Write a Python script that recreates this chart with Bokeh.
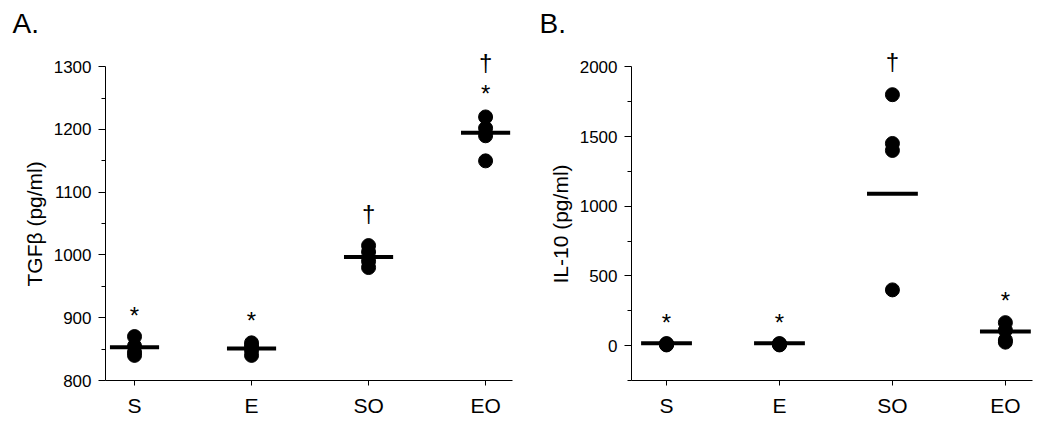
from bokeh.plotting import figure
from bokeh.layouts import row
from bokeh.models import FixedTicker, Range1d, ColumnDataSource, Title
from bokeh.core.properties import value
from bokeh.embed import file_html
from bokeh.resources import INLINE

groups = ["S", "E", "SO", "EO"]

# Panel A: TGFβ (pg/ml)
tgf_S = [870, 855, 845, 840]
tgf_E = [860, 855, 848, 840]
tgf_SO = [1015, 1005, 990, 980]
tgf_EO = [1220, 1202, 1190, 1150]
tgf_mean = [853, 851, 997, 1195]
tgf_ann_group = ["S", "E", "SO", "EO", "EO"]
tgf_ann_text = ["*", "*", "\u2020", "*", "\u2020"]
tgf_ann_y = [903, 896, 1066, 1257, 1306]

# Panel B: IL-10 (pg/ml)
il_S = [15, 10, 10, 5]
il_E = [15, 10, 10, 5]
il_SO = [1800, 1450, 1400, 400]
il_EO = [165, 110, 40, 25]
il_mean = [17, 17, 1090, 102]
il_ann_group = ["S", "E", "SO", "EO"]
il_ann_text = ["*", "*", "\u2020", "*"]
il_ann_y = [168, 168, 2036, 323]

FONT = "Liberation Sans"
pos = {g: i + 1 for i, g in enumerate(groups)}


def panel(letter, ylabel, series, means, ann_g, ann_t, ann_y, xr, yr, bounds,
          major, minor, border_left, frame_w, half, title_x, label_off):
    p = figure(output_backend="svg", toolbar_location=None,
               frame_width=frame_w, frame_height=342,
               min_border_left=border_left, min_border_right=8,
               min_border_top=38, min_border_bottom=42,
               x_range=Range1d(*xr), y_range=Range1d(*yr),
               outline_line_color=None, background_fill_color="white",
               border_fill_color="white")
    p.grid.visible = False

    p.title.text = letter
    p.title.text_font = FONT
    p.title.text_font_size = "28px"
    p.title.text_font_style = "normal"
    p.title.text_color = "black"
    p.title.align = "left"
    p.title.offset = -(border_left - title_x)
    p.title.standoff = 0

    xs, ys = [], []
    for g, vals in zip(groups, series):
        xs += [pos[g]] * len(vals)
        ys += list(vals)
    p.scatter(xs, ys, size=14, color="black", marker="circle")

    mx = [pos[g] for g in groups]
    p.segment(x0=[x - half for x in mx], y0=means, x1=[x + half for x in mx],
              y1=means, line_color="black", line_width=4)

    src = ColumnDataSource(dict(x=[pos[g] for g in ann_g], y=ann_y, t=ann_t))
    p.text(x="x", y="y", text="t", source=src, text_align="center",
           text_baseline="middle", text_font=value(FONT),
           text_font_size="24px", text_color="black")

    ya = p.yaxis[0]
    ya.ticker = FixedTicker(ticks=major, minor_ticks=minor)
    ya.bounds = bounds
    ya.major_label_text_font = FONT
    ya.major_label_text_font_size = "17px"
    ya.major_label_standoff = 7
    ya.major_tick_out = 7
    ya.major_tick_in = 0
    ya.minor_tick_out = 4
    ya.minor_tick_in = 0
    ya.axis_line_color = "black"
    ya.major_tick_line_color = "black"
    ya.minor_tick_line_color = "black"
    ya.major_label_text_color = "black"

    # y-axis label centred on the drawn axis span (below the frame centre)
    lab = Title(text=ylabel, align="left", offset=label_off, standoff=10,
                text_font=FONT, text_font_size="21px",
                text_font_style="normal", text_color="black")
    p.add_layout(lab, "left")

    xa = p.xaxis[0]
    xa.ticker = FixedTicker(ticks=[pos[g] for g in groups])
    xa.major_label_overrides = {pos[g]: g for g in groups}
    xa.major_label_text_font = FONT
    xa.major_label_text_font_size = "21px"
    xa.major_label_standoff = 8
    xa.major_tick_out = 5
    xa.major_tick_in = 0
    xa.minor_tick_line_color = None
    xa.axis_line_color = "black"
    xa.major_tick_line_color = "black"
    xa.major_label_text_color = "black"
    return p


pA = panel("A.", "TGF\u03b2 (pg/ml)", [tgf_S, tgf_E, tgf_SO, tgf_EO], tgf_mean,
           tgf_ann_group, tgf_ann_text, tgf_ann_y,
           (0.752, 4.23), (800, 1345), (800, 1300),
           [800, 900, 1000, 1100, 1200, 1300],
           [850, 950, 1050, 1150, 1250], 105, 407, 0.21, 12, 94)

pB = panel("B.", "IL-10 (pg/ml)", [il_S, il_E, il_SO, il_EO], il_mean,
           il_ann_group, il_ann_text, il_ann_y,
           (0.69, 4.24), (-250, 2203), (-250, 2000),
           [0, 500, 1000, 1500, 2000],
           [-250, 250, 750, 1250, 1750], 111, 401, 0.225, 19, 97)

layout = row(pA, pB, spacing=0)
open("out.html", "w").write(file_html(layout, INLINE))
